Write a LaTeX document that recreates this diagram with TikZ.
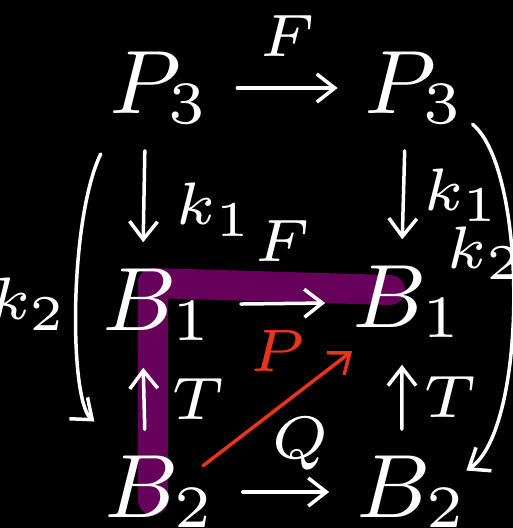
\documentclass[tikz,border=0pt]{standalone}
\usetikzlibrary{arrows.meta,backgrounds}
\definecolor{routepurple}{HTML}{66005A}
\definecolor{diagred}{HTML}{E8341C}
\tikzset{
  obj/.style={text=white,font=\fontsize{9}{11}\selectfont,inner sep=1.5pt},
  lab/.style={text=white,font=\fontsize{6}{7}\selectfont,inner sep=1pt},
  map/.style={draw=white,line width=0.35pt,line cap=round,
              -{Straight Barb[length=1.8pt,width=2.8pt]},shorten <=1pt,shorten >=1pt},
  diag/.style={map,draw=diagred},
  % the highlighted composite, a thick marker stroke behind the objects
  route/.style={draw=routepurple,line width=3pt,line cap=round,line join=round},
}

\begin{document}
\begin{tikzpicture}[x=0.1pt,y=-0.1pt]
  \useasboundingbox (0,0) rectangle (513,528);
  % objects
  \node[obj] (P3l) at (160,88) {$P_3$};
  \node[obj] (P3r) at (415,88) {$P_3$};
  \node[obj] (B1l) at (158,305) {$B_1$};
  \node[obj] (B1r) at (408,302) {$B_1$};
  \node[obj] (B2l) at (160,492) {$B_2$};
  \node[obj] (B2r) at (412,492) {$B_2$};
  % top row and the two k_1
  \draw[map] (P3l) -- node[lab,above=2pt] {$F$} (P3r);
  \draw[map] ([xshift=-1.5pt]P3l.south) -- node[lab,pos=0.62,right=2pt] {$k_1$} ([xshift=-1.5pt]B1l.north);
  \draw[map] ([xshift=-1pt]P3r.south) -- node[lab,right=0.8pt] {$k_1$} ([xshift=-0.6pt]B1r.north);
  % the square B_2 -> B_1
  \draw[map] (B1l) -- node[lab,above=3pt] {$F$} (B1r);
  \draw[map] ([xshift=-1.5pt]B2l.north) -- node[lab,right=1.6pt] {$T$} ([xshift=-1.5pt]B1l.south);
  \draw[map] ([xshift=-1pt]B2r.north) -- node[lab,right=1pt] {$T$} ([xshift=-0.6pt]B1r.south);
  \draw[map] (B2l) -- node[lab,above=1pt,xshift=1.5pt] {$Q$} (B2r);
  \draw[diag] ([shift={(35,-20)}]B2l.center) -- node[lab,text=diagred,above=2.5pt] {$P$} ([shift={(-48,43)}]B1r.center);
  % the two k_2 round the outside
  \draw[map] ([shift={(-55,57)}]P3l.center) .. controls +(-36,75) and +(-33,-28) .. node[lab,inner sep=0pt,pos=0.5,left=0.7pt] {$k_2$} ([shift={(-58,-64)}]B2l.center);
  \draw[map] ([shift={(50,30)}]P3r.center) .. controls +(63,52) and +(70,-46) .. node[lab,pos=0.4,xshift=-2.4pt] {$k_2$} ([shift={(46,-16)}]B2r.center);
  \begin{scope}[on background layer]
    \fill[black] (0,0) rectangle (513,528);
    \draw[route] ([shift={(-7,8)}]B2l.center) -- ([shift={(-5,-22)}]B1l.center) -- ([shift={(-18,-12)}]B1r.center);
  \end{scope}
\end{tikzpicture}
\end{document}
